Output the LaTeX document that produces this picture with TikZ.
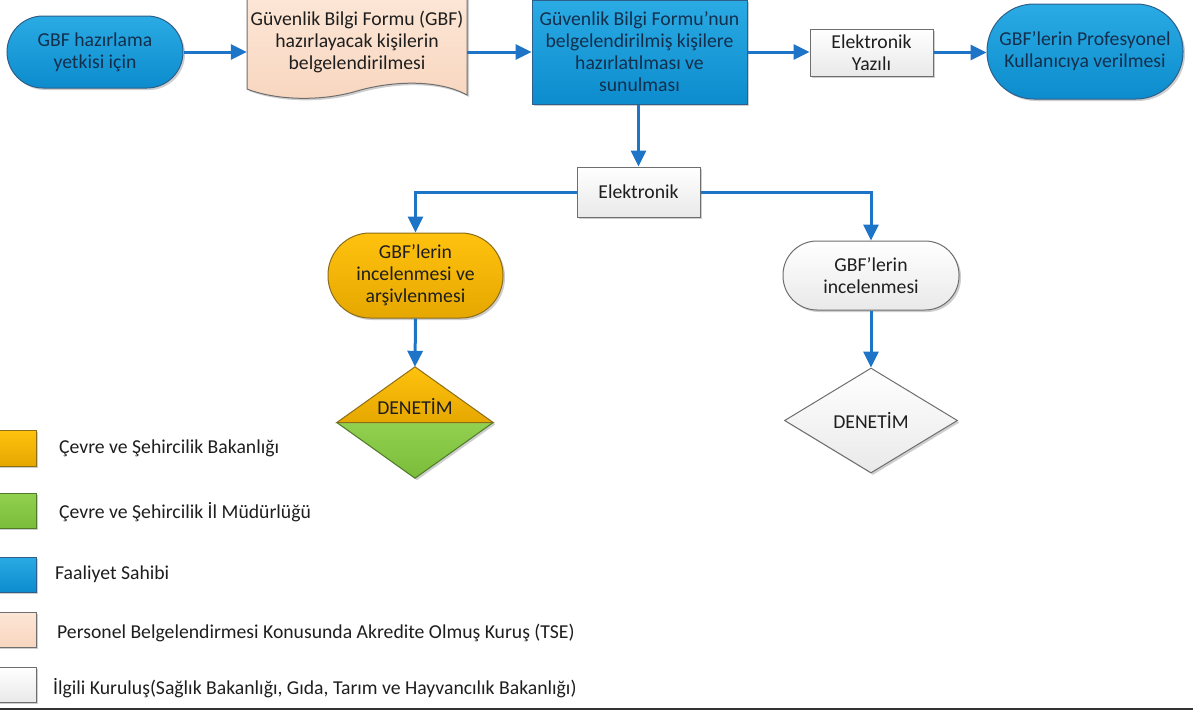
\documentclass[tikz,border=0pt]{standalone}
\usepackage{fontspec}
\setmainfont{Carlito}
\usetikzlibrary{arrows.meta,shapes.geometric,shadows,calc}
\definecolor{arrowblue}{HTML}{1E74C6}
\definecolor{bluetop}{HTML}{2AABE4}
\definecolor{bluebot}{HTML}{0C8CCD}
\definecolor{blueborder}{HTML}{2D5F8A}
\definecolor{bluetext}{HTML}{132F4C}
\definecolor{orangetop}{HTML}{FFC20E}
\definecolor{orangebot}{HTML}{E6A700}
\definecolor{orangeborder}{HTML}{8C6D1A}
\definecolor{greentop}{HTML}{92D050}
\definecolor{greenbot}{HTML}{7ABD3A}
\definecolor{greenborder}{HTML}{4F7A28}
\definecolor{peachtop}{HTML}{FCE6D6}
\definecolor{peachbot}{HTML}{F8D6BF}
\definecolor{greyborder}{HTML}{6E6E6E}
\definecolor{whitebot}{HTML}{E9E9E9}
\definecolor{txt}{HTML}{1E1E1E}
\begin{document}
\begin{tikzpicture}[x=1pt,y=-1pt,
  font=\fontsize{19.7}{22}\selectfont,
  arr/.style={draw=arrowblue, line width=3pt, -{Triangle[length=16pt,width=15pt]}},
  shad/.style={drop shadow={opacity=0.35, shadow xshift=2pt, shadow yshift=-2pt, fill=black!55}},
  basebox/.style={align=center, inner sep=0pt, line width=1pt, shad},
  bluebox/.style={basebox, draw=blueborder, top color=bluetop, bottom color=bluebot, text=bluetext},
  whitebox/.style={basebox, draw=greyborder, top color=white, bottom color=whitebot, text=txt},
  orangebox/.style={basebox, draw=orangeborder, top color=orangetop, bottom color=orangebot, text=txt},
  legsq/.style={line width=1pt, shad},
  legtxt/.style={anchor=west, text=txt, inner sep=0pt}
]
\useasboundingbox (0,0) rectangle (1193,710);

% --- top row ---
\node[bluebox, minimum width=176, minimum height=72, rounded corners=36] (n1) at (95,52)
  {GBF hazırlama\\yetkisi için};

\path[shad, draw=greyborder, line width=1pt, top color=peachtop, bottom color=peachbot]
  (247,-2) -- (467,-2) -- (467,95)
  .. controls (440,80) and (395,80) .. (357,91)
  .. controls (320,102) and (275,100) .. (247,89) -- cycle;
\node[align=center, inner sep=0pt, text=txt, minimum width=220, minimum height=83] (doc) at (357,41.5)
  {Güvenlik Bilgi Formu (GBF)\\hazırlayacak kişilerin\\belgelendirilmesi};

\node[bluebox, minimum width=215, minimum height=104] (n3) at (639.5,52)
  {Güvenlik Bilgi Formu’nun\\belgelendirilmiş kişilere\\hazırlatılması ve\\sunulması};

\node[whitebox, minimum width=123, minimum height=47] (ey) at (871.5,52.5)
  {Elektronik\\Yazılı};

\node[bluebox, minimum width=196, minimum height=95, rounded corners=47] (n5) at (1085,51.5)
  {GBF’lerin Profesyonel\\Kullanıcıya verilmesi};

% --- middle ---
\node[whitebox, minimum width=123, minimum height=50] (el) at (638.5,192) {Elektronik};

\node[orangebox, minimum width=175, minimum height=85, rounded corners=42] (or) at (415.5,275.5)
  {GBF’lerin\\incelenmesi ve\\arşivlenmesi};

\node[whitebox, minimum width=176, minimum height=69, rounded corners=34] (wh) at (871,275.5)
  {GBF’lerin\\incelenmesi};

% --- diamonds ---
\node[diamond, minimum width=156, minimum height=111, inner sep=0pt] (dl) at (415,422.5) {};
\fill[black!55, opacity=0.35] ([shift={(2,2)}]dl.north) -- ([shift={(2,2)}]dl.east) -- ([shift={(2,2)}]dl.south) -- ([shift={(2,2)}]dl.west) -- cycle;
\path[top color=orangetop, bottom color=orangebot] (dl.north) -- (dl.east) -- (dl.west) -- cycle;
\path[top color=greentop, bottom color=greenbot] (dl.west) -- (dl.east) -- (dl.south) -- cycle;
\draw[orangeborder, line width=1pt, line join=miter] (dl.north) -- (dl.east) -- (dl.west) -- cycle;
\draw[greenborder, line width=1pt] (dl.east) -- (dl.south) -- (dl.west);
\node[text=txt, inner sep=0pt] (dlt) at (415,406) {DENETİM};

\node[diamond, whitebox, minimum width=173, minimum height=105] (dr) at (871,420.5) {DENETİM};

% --- connectors ---
\draw[arr] (n1.east) -- (n1.east -| doc.west);
\draw[arr] (doc.east |- n3.west) -- (n3.west);
\draw[arr] (n3.east) -- (n3.east -| ey.west);
\draw[arr] (ey.east) -- (ey.east -| n5.west);
\draw[arr] (n3.south -| el.north) -- (el.north);
\draw[arr] (el.west) -| (or.north);
\draw[arr] (el.east) -| (wh.north);
\draw[arr] (or.south) -- (dl.north);
\draw[arr] (wh.south) -- (dr.north);

% --- legend ---
\path[legsq, draw=orangeborder, top color=orangetop, bottom color=orangebot] (-2,430) rectangle (36,466);
\path[legsq, draw=greenborder, top color=greentop, bottom color=greenbot] (-2,493) rectangle (36,528);
\path[legsq, draw=blueborder, top color=bluetop, bottom color=bluebot] (-2,557) rectangle (36,592);
\path[legsq, draw=greyborder, top color=peachtop, bottom color=peachbot] (-2,612) rectangle (36,647);
\path[legsq, draw=greyborder, top color=white, bottom color=whitebot] (-2,667) rectangle (36,702);

\node[legtxt] (l1) at (59,448) {Çevre ve Şehircilik Bakanlığı};
\node[legtxt] (l2) at (59,512) {Çevre ve Şehircilik İl Müdürlüğü};
\node[legtxt] (l3) at (55,574) {Faaliyet Sahibi};
\node[legtxt] (l4) at (57,633) {Personel Belgelendirmesi Konusunda Akredite Olmuş Kuruş (TSE)};
\node[legtxt] (l5) at (53,688) {İlgili Kuruluş(Sağlık Bakanlığı, Gıda, Tarım ve Hayvancılık Bakanlığı)};

\draw[black!80, line width=2pt] (0,708.5) -- (1193,708.5);
\end{tikzpicture}
\end{document}
